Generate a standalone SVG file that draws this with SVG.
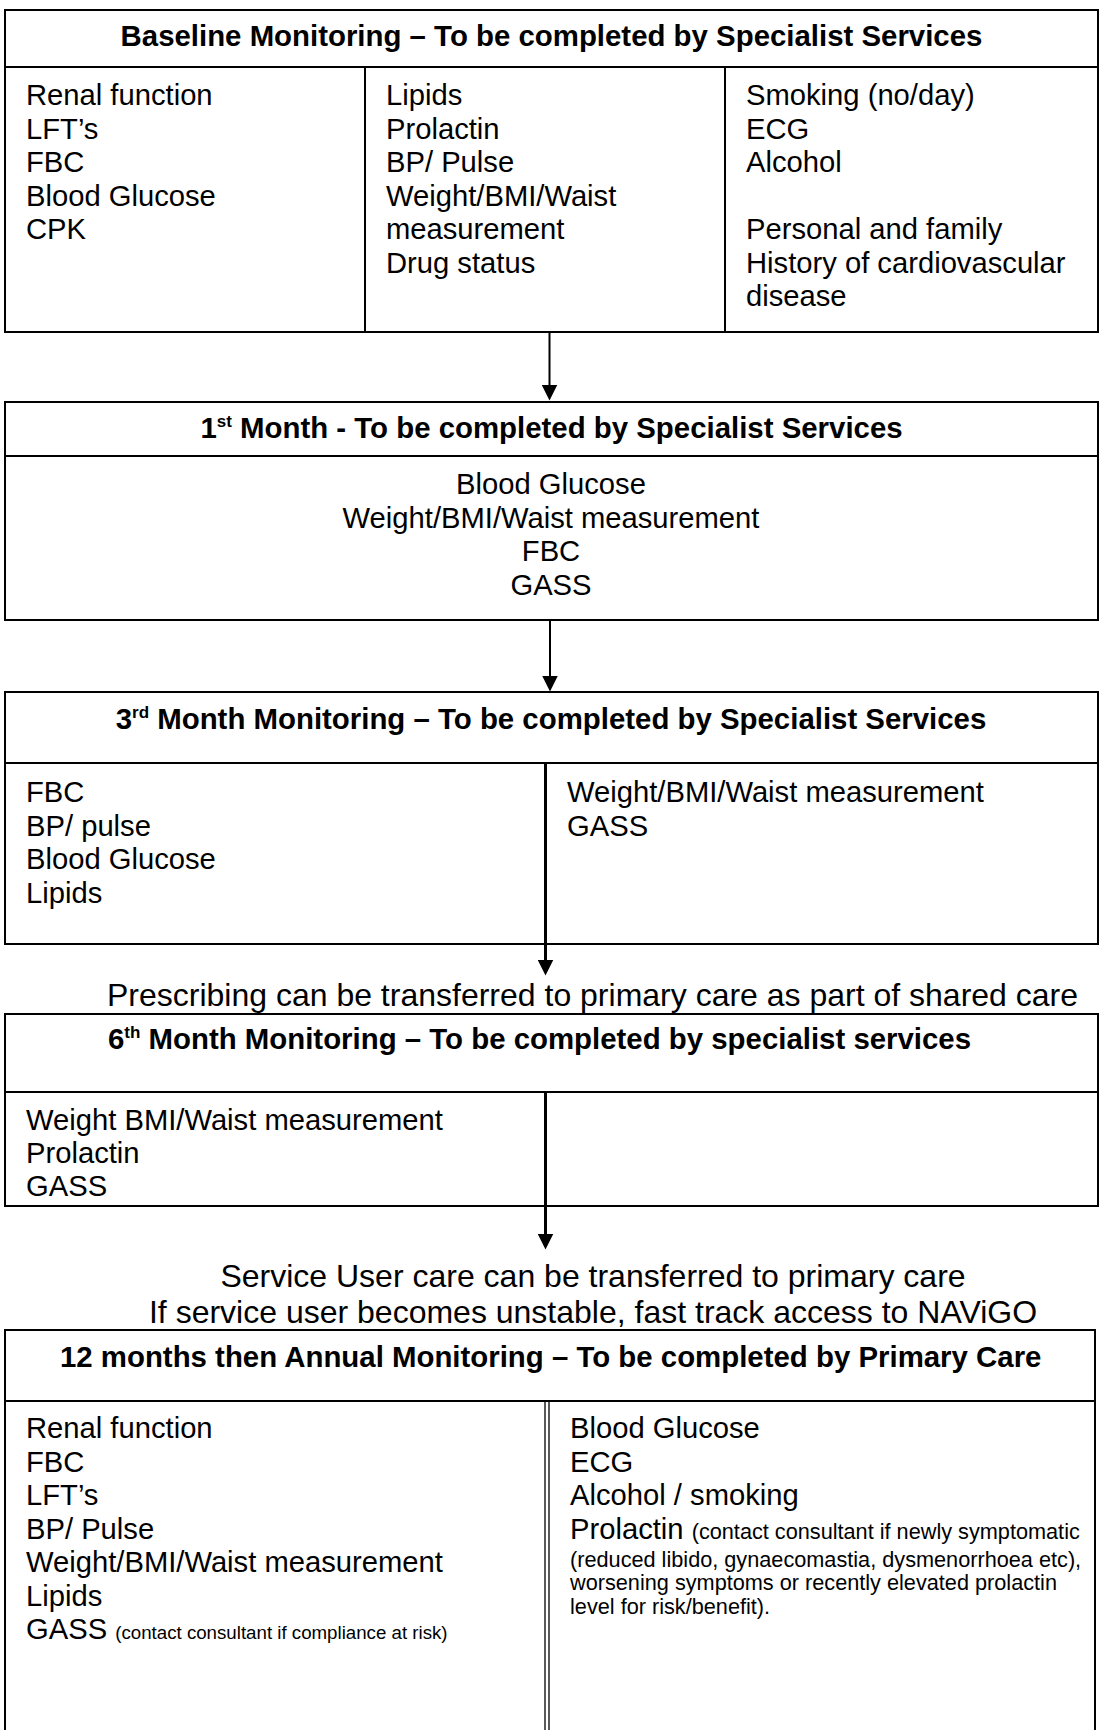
<svg xmlns="http://www.w3.org/2000/svg" width="1100" height="1730" viewBox="0 0 1100 1730">
<style>
.b{fill:none;stroke:#000;stroke-width:2}
.d{stroke:#000;stroke-width:2}
.d3{stroke:#000;stroke-width:3}
.dd{stroke:#000;stroke-width:1.3}
.t{font-family:"Liberation Sans",Arial,sans-serif;font-size:29.2px;fill:#000}
.h{font-weight:bold;text-anchor:middle;font-size:29.4px}
.c{text-anchor:middle}
.s{font-size:21.7px}
.xs{font-size:18.7px}
.n{font-size:32px;text-anchor:middle}
.a{stroke:#000;stroke-width:2;fill:none;marker-end:url(#ah)}
.a3{stroke:#000;stroke-width:3;fill:none;marker-end:url(#ah)}
</style>
<defs>
<marker id="ah" markerUnits="userSpaceOnUse" markerWidth="16" markerHeight="16" viewBox="0 0 15 15" refX="7" refY="7.5" orient="auto">
<path d="M0,0 L15,7.5 L0,15 z" fill="#000"/>
</marker>
</defs>
<rect x="0" y="0" width="1100" height="1730" fill="#fff"/>

<g id="baseline">
<rect class="b" x="5" y="10" width="1093" height="322"/>
<line class="d" x1="5" y1="67" x2="1098" y2="67"/>
<line class="d" x1="365" y1="67" x2="365" y2="332"/>
<line class="d" x1="725" y1="67" x2="725" y2="332"/>
<text class="t h" x="551.5" y="46">Baseline Monitoring – To be completed by Specialist Services</text>
<text class="t"><tspan x="26" y="105">Renal function</tspan><tspan x="26" y="138.5">LFT’s</tspan><tspan x="26" y="172">FBC</tspan><tspan x="26" y="205.5">Blood Glucose</tspan><tspan x="26" y="239">CPK</tspan></text>
<text class="t"><tspan x="386" y="105">Lipids</tspan><tspan x="386" y="138.5">Prolactin</tspan><tspan x="386" y="172">BP/ Pulse</tspan><tspan x="386" y="205.5">Weight/BMI/Waist</tspan><tspan x="386" y="239">measurement</tspan><tspan x="386" y="272.5">Drug status</tspan></text>
<text class="t"><tspan x="746" y="105">Smoking (no/day)</tspan><tspan x="746" y="138.5">ECG</tspan><tspan x="746" y="172">Alcohol</tspan><tspan x="746" y="239">Personal and family</tspan><tspan x="746" y="272.5">History of cardiovascular</tspan><tspan x="746" y="306">disease</tspan></text>
</g>

<g id="month1">
<rect class="b" x="5" y="402" width="1093" height="218"/>
<line class="d" x1="5" y1="456" x2="1098" y2="456"/>
<text class="t h" x="551.5" y="437.5">1<tspan font-size="17" dy="-11">st</tspan><tspan dy="11"> Month - To be completed by Specialist Services</tspan></text>
<text class="t c"><tspan x="551" y="494">Blood Glucose</tspan><tspan x="551" y="527.5">Weight/BMI/Waist measurement</tspan><tspan x="551" y="561">FBC</tspan><tspan x="551" y="594.5">GASS</tspan></text>
</g>

<g id="month3">
<rect class="b" x="5" y="692" width="1093" height="252"/>
<line class="d" x1="5" y1="763" x2="1098" y2="763"/>
<line class="d3" x1="545.5" y1="763" x2="545.5" y2="944"/>
<text class="t h" x="551" y="728.5">3<tspan font-size="17" dy="-11">rd</tspan><tspan dy="11"> Month Monitoring – To be completed by Specialist Services</tspan></text>
<text class="t"><tspan x="26" y="802">FBC</tspan><tspan x="26" y="835.5">BP/ pulse</tspan><tspan x="26" y="869">Blood Glucose</tspan><tspan x="26" y="902.5">Lipids</tspan></text>
<text class="t"><tspan x="567" y="802">Weight/BMI/Waist measurement</tspan><tspan x="567" y="835.5">GASS</tspan></text>
</g>

<g id="note-shared-care">
<text class="t n" x="592.5" y="1006">Prescribing can be transferred to primary care as part of shared care</text>
</g>

<g id="month6">
<rect class="b" x="5" y="1014" width="1093" height="192"/>
<line class="d" x1="5" y1="1092" x2="1098" y2="1092"/>
<line class="d3" x1="545.5" y1="1092" x2="545.5" y2="1206"/>
<text class="t h" x="539.5" y="1049">6<tspan font-size="17" dy="-11">th</tspan><tspan dy="11"> Month Monitoring – To be completed by specialist services</tspan></text>
<text class="t"><tspan x="26" y="1130">Weight BMI/Waist measurement</tspan><tspan x="26" y="1163">Prolactin</tspan><tspan x="26" y="1196">GASS</tspan></text>
</g>

<g id="note-transfer">
<text class="t n"><tspan x="593" y="1287">Service User care can be transferred to primary care</tspan><tspan x="593" y="1323">If service user becomes unstable, fast track access to NAViGO</tspan></text>
</g>

<g id="annual">
<rect class="b" x="5" y="1330" width="1090" height="420"/>
<line class="d" x1="5" y1="1401" x2="1095" y2="1401"/>
<line class="dd" x1="545" y1="1401" x2="545" y2="1740"/>
<line class="dd" x1="549" y1="1401" x2="549" y2="1740"/>
<text class="t h" x="550.7" y="1366.5">12 months then Annual Monitoring – To be completed by Primary Care</text>
<text class="t"><tspan x="26" y="1438">Renal function</tspan><tspan x="26" y="1471.5">FBC</tspan><tspan x="26" y="1505">LFT’s</tspan><tspan x="26" y="1538.5">BP/ Pulse</tspan><tspan x="26" y="1572">Weight/BMI/Waist measurement</tspan><tspan x="26" y="1605.5">Lipids</tspan><tspan x="26" y="1639">GASS <tspan class="xs">(contact consultant if compliance at risk)</tspan></tspan></text>
<text class="t"><tspan x="570" y="1438">Blood Glucose</tspan><tspan x="570" y="1471.5">ECG</tspan><tspan x="570" y="1505">Alcohol / smoking</tspan><tspan x="570" y="1538.5">Prolactin <tspan class="s">(contact consultant if newly symptomatic</tspan></tspan></text>
<text class="t s"><tspan x="570" y="1566.5">(reduced libido, gynaecomastia, dysmenorrhoea etc),</tspan><tspan x="570" y="1590">worsening symptoms or recently elevated prolactin</tspan><tspan x="570" y="1613.5">level for risk/benefit).</tspan></text>
</g>

<g id="connectors">
<line class="a" x1="549.5" y1="332" x2="549.5" y2="392"/>
<line class="a" x1="550" y1="620" x2="550" y2="683"/>
<line class="a3" x1="545.5" y1="944" x2="545.5" y2="967"/>
<line class="a3" x1="545.5" y1="1206" x2="545.5" y2="1241"/>
</g>
</svg>
